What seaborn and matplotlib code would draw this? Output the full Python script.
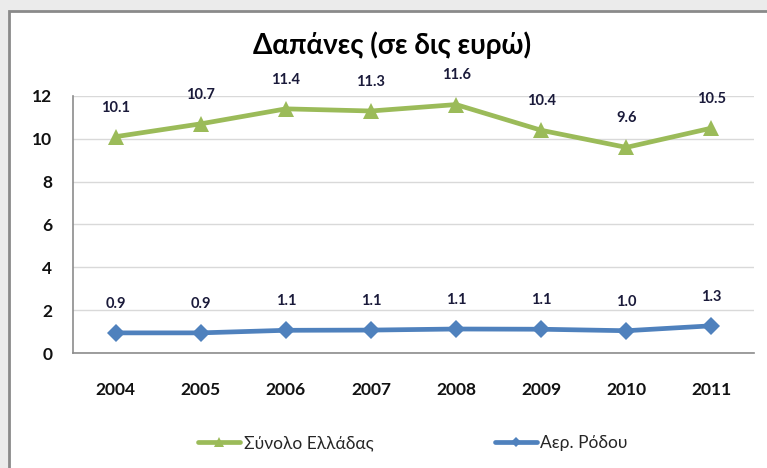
import matplotlib
matplotlib.use("Agg")
import matplotlib.pyplot as plt
import seaborn as sns
import pandas as pd
from matplotlib.patches import Rectangle
from matplotlib.lines import Line2D

years = ["2004", "2005", "2006", "2007", "2008", "2009", "2010", "2011"]
greece_total = [10.1, 10.7, 11.4, 11.3, 11.6, 10.4, 9.6, 10.5]
rhodes_airport = [0.94, 0.94, 1.06, 1.07, 1.12, 1.11, 1.04, 1.27]
series_names = ["Σύνολο Ελλάδας", "Αερ. Ρόδου"]
title = "Δαπάνες (σε δις ευρώ)"

sns.set_theme(style="white")
plt.rcParams['font.family'] = ['Lato', 'Noto Sans', 'DejaVu Sans']

df = pd.DataFrame({
    "year": years * 2,
    "value": greece_total + rhodes_airport,
    "series": [series_names[0]] * len(years) + [series_names[1]] * len(years),
})

green = "#9BBB59"
blue = "#4F81BD"

fig = plt.figure(figsize=(7.67, 4.68), dpi=100)
fig.patch.set_facecolor("#ebebeb")
frame = Rectangle((9 / 767, -0.05), 1.2, 1 - 11 / 468 + 0.05, transform=fig.transFigure,
                  facecolor="white", edgecolor="#8a8a8a", linewidth=2, zorder=-5)
fig.patches.append(frame)

ax = fig.add_axes([73 / 767, 1 - 353 / 468, (754 - 73) / 767, (353 - 96) / 468])
ax.set_facecolor("white")
ax.set_zorder(1)

sns.lineplot(data=df, x="year", y="value", hue="series", style="series",
             palette={series_names[0]: green, series_names[1]: blue},
             markers={series_names[0]: "^", series_names[1]: "D"},
             dashes=False, linewidth=3.4, markersize=11, markeredgewidth=0,
             legend=False, ax=ax, sort=False)
for ln in ax.lines:
    if ln.get_marker() == "D":
        ln.set_markersize(9.5)

ax.set_xlim(-0.5, len(years) - 0.5)
ax.set_ylim(0, 12)
ax.set_yticks(range(0, 13, 2))
ax.yaxis.grid(True, color="#d9d9d9", linewidth=1)
ax.set_axisbelow(True)
for s in ["top", "right"]:
    ax.spines[s].set_visible(False)
for s in ["left", "bottom"]:
    ax.spines[s].set_color("#8c8c8c")
    ax.spines[s].set_linewidth(1.2)
ax.tick_params(axis="both", length=0, labelsize=12.5, colors="#111111")
ax.tick_params(axis="x", pad=21)
ax.tick_params(axis="y", pad=15)
for lab in ax.get_xticklabels() + ax.get_yticklabels():
    lab.set_fontweight("bold")
ax.set_xlabel("")
ax.set_ylabel("")

for vals in (greece_total, rhodes_airport):
    for i, v in enumerate(vals):
        ax.annotate(f"{v:.1f}", (i, v), xytext=(0, 21), textcoords="offset points",
                    ha="center", va="center", fontsize=10.5, fontweight="bold",
                    color="#1a1a3a")

fig.text(392 / 767, 1 - 45 / 468, title, ha="center", va="center",
         fontsize=20, fontweight="bold", color="#000000")

handles = [
    Line2D([], [], color=green, marker="^", linewidth=3.4, markersize=6.5, markeredgewidth=0),
    Line2D([], [], color=blue, marker="D", linewidth=3.4, markersize=5.5, markeredgewidth=0),
]
fig.legend(handles, series_names, loc="center", bbox_to_anchor=(413 / 767, 1 - 443 / 468),
           ncol=2, frameon=False, fontsize=12.5, handlelength=2.4, handletextpad=0.2,
           columnspacing=7.0)

fig.savefig("out.png", dpi=100, facecolor=fig.get_facecolor())
